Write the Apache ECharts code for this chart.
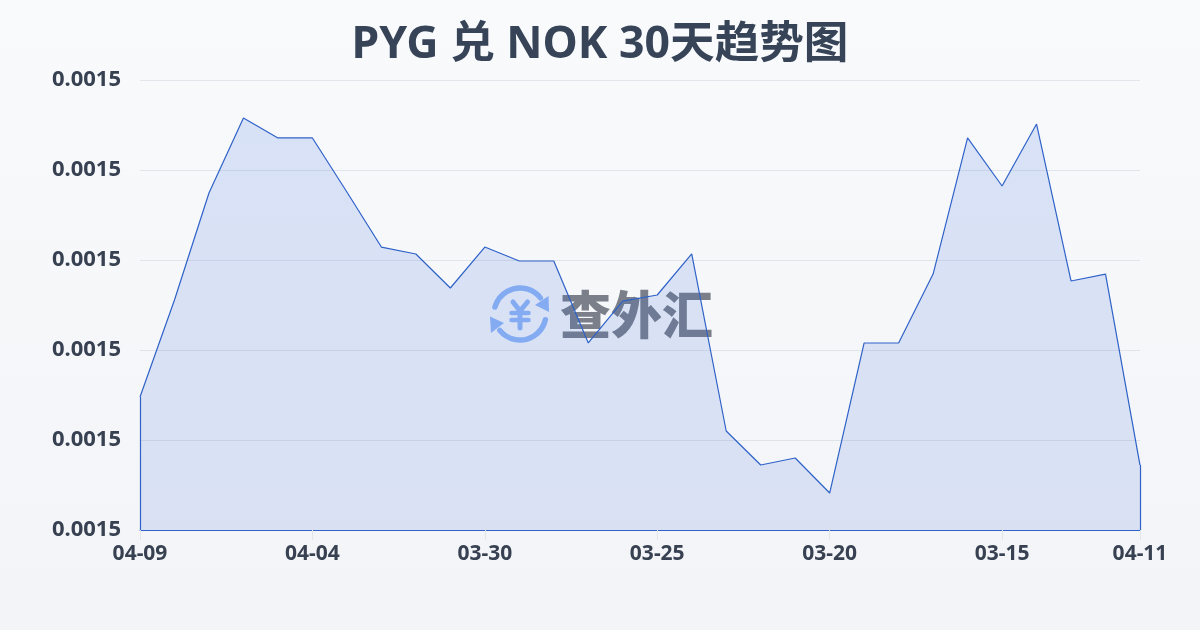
<!DOCTYPE html>
<html><head><meta charset="utf-8">
<style>html,body{margin:0;padding:0;width:1200px;height:630px;overflow:hidden;background:#f8fafc}#c{width:1200px;height:630px}</style>
<script src="https://cdn.jsdelivr.net/npm/echarts@6/dist/echarts.min.js"></script>
</head><body><div id="c"></div>
<script>
const titleText = 'PYG 兑 NOK 30天趋势图';
const dates = ['04-09','04-08','04-07','04-06','04-05','04-04','04-03','04-02','04-01','03-31','03-30','03-29','03-28','03-27','03-26','03-25','03-24','03-23','03-22','03-21','03-20','03-19','03-18','03-17','03-16','03-15','03-14','03-13','03-12','04-11'];
const rates = [0.00149478,0.00150556,0.00151744,0.00152578,0.00152356,0.00152356,0.00151756,0.00151144,0.00151067,0.00150689,0.00151144,0.00150989,0.00150989,0.00150078,0.00150544,0.00150611,0.00151067,0.00149100,0.00148722,0.00148800,0.00148411,0.00150078,0.00150078,0.00150844,0.00152356,0.00151822,0.00152511,0.00150767,0.00150844,0.00148722];
const axisMin = 0.00148, axisMax = 0.00153, axisStep = 0.00001;
const font = '"Noto Sans","Noto Sans CJK SC",sans-serif';
const ink = '#374151', blue = '#2f62c8', mark = '#92b8f6';
const lastIndex = dates.length - 1;
const showLabel = i => i % 5 === 0 || i === lastIndex;
const chart = echarts.init(document.getElementById('c'), null, {renderer:'canvas'});
const markStroke = w => ({stroke:mark,lineWidth:w,fill:null,lineCap:'round',lineJoin:'round'});
chart.setOption({
  animation:false,
  backgroundColor:{type:'linear',x:0,y:0,x2:0,y2:1,colorStops:[{offset:0,color:'#f8fafc'},{offset:1,color:'#f2f4f7'}]},
  title:{text:titleText,left:'center',top:18,textStyle:{fontFamily:font,fontSize:44.6,fontWeight:'bold',color:'#374357'}},
  grid:{left:140,right:60,top:80,bottom:100},
  xAxis:{type:'category',data:dates,boundaryGap:false,
    axisLine:{show:true,lineStyle:{color:blue,width:1}},
    axisTick:{show:true,length:10,interval:showLabel,lineStyle:{color:'#e2e5ea'}},
    axisLabel:{interval:showLabel,margin:14,fontFamily:font,fontSize:21,fontWeight:'bold',color:ink,hideOverlap:false},
    splitLine:{show:false}},
  yAxis:{type:'value',min:axisMin,max:axisMax,interval:axisStep,
    axisLine:{show:false},axisTick:{show:false},
    axisLabel:{margin:19,fontFamily:font,fontSize:22,fontWeight:'bold',color:ink,formatter:v=>v.toFixed(4)},
    splitLine:{show:true,lineStyle:{color:'rgba(148,163,184,0.22)',width:1}}},
  series:[{type:'line',data:rates,smooth:false,symbol:'none',
    lineStyle:{color:blue,width:1.2},
    areaStyle:{color:{type:'linear',x:0,y:0,x2:0,y2:1,colorStops:[{offset:0,color:'rgba(47,100,220,0.22)'},{offset:1,color:'rgba(47,90,210,0.19)'}]}},
    markLine:{silent:true,symbol:'none',label:{show:false},animation:false,lineStyle:{color:blue,width:1.2,type:'solid'},
      data:[[{coord:[0,axisMin]},{coord:[0,rates[0]]}],[{coord:[lastIndex,axisMin]},{coord:[lastIndex,rates[lastIndex]]}]]}
  }],
  graphic:[
    {type:'arc',z:1,shape:{cx:520,cy:314,r:26,startAngle:-2.87,endAngle:-0.67},style:markStroke(5.5)},
    {type:'arc',z:1,shape:{cx:520,cy:314,r:26,startAngle:0.22,endAngle:2.46},style:markStroke(5.5)},
    {type:'polygon',z:1,shape:{points:[[548.5,296],[549,312],[535,305]]},style:{fill:mark}},
    {type:'polygon',z:1,shape:{points:[[490,316.5],[491,333],[504,323]]},style:{fill:mark}},
    {type:'polyline',z:1,shape:{points:[[513,302],[520,311],[527.5,302]]},style:markStroke(5)},
    {type:'line',z:1,shape:{x1:511.5,y1:313,x2:528.5,y2:313},style:markStroke(4.5)},
    {type:'line',z:1,shape:{x1:511.5,y1:320,x2:528.5,y2:320},style:markStroke(4.5)},
    {type:'line',z:1,shape:{x1:520,y1:311,x2:520,y2:328},style:markStroke(5)},
    {type:'text',z:1,style:{text:'查外汇',x:560,y:315,align:'left',verticalAlign:'middle',font:'900 51px "Noto Sans CJK SC"',fill:'#7a7f8a'}}
  ]
});
</script></body></html>
